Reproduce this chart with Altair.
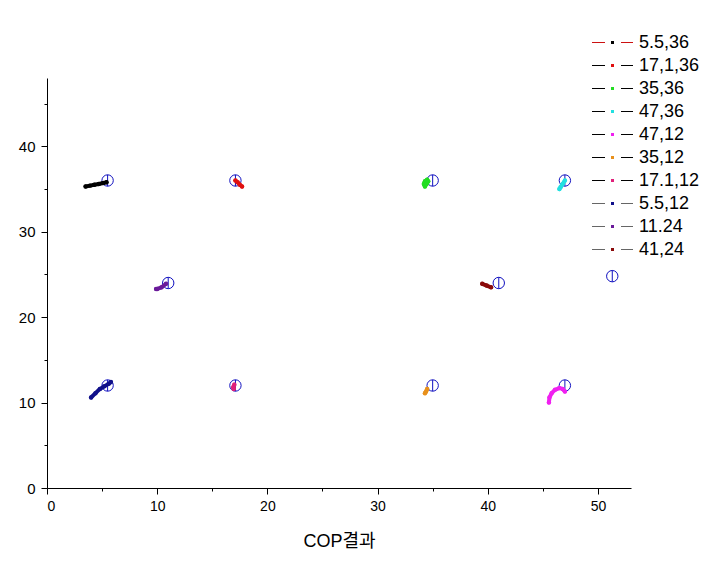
import altair as alt
import pandas as pd

# ---------------- data ----------------
labels = ["5.5,36", "17,1,36", "35,36", "47,36", "47,12",
          "35,12", "17.1,12", "5.5,12", "11.24", "41,24"]
colors = ["#000000", "#e01010", "#22dd22", "#22e0e0", "#f020f0",
          "#e8901c", "#e0207a", "#10108a", "#6a1a9a", "#8a0a0a"]
legend_line_colors = ["#cc1111", "#000000", "#000000", "#000000", "#000000",
                      "#000000", "#000000", "#666666", "#666666", "#666666"]

# measured traces (x, y) per series
s1_x = [3.5, 3.9, 4.3, 4.7, 5.1, 5.4]
s1_y = [35.3, 35.4, 35.5, 35.6, 35.7, 35.8]
s2_x = [17.1, 17.3, 17.5, 17.7]
s2_y = [36.0, 35.8, 35.5, 35.3]
s3_x = [34.5, 34.3, 34.2, 34.3, 34.45, 34.6]
s3_y = [36.1, 35.9, 35.6, 35.3, 35.6, 35.9]
s4_x = [47.0, 46.8, 46.6, 46.5]
s4_y = [36.0, 35.6, 35.2, 35.0]
s5_x = [45.55, 45.6, 45.8, 46.1, 46.5, 46.8, 47.0]
s5_y = [10.0, 10.6, 11.1, 11.5, 11.7, 11.6, 11.3]
s6_x = [34.5, 34.4, 34.3]
s6_y = [11.6, 11.3, 11.1]
s7_x = [17.0, 16.9, 16.95]
s7_y = [12.1, 11.8, 11.6]
s8_x = [4.0, 4.4, 4.8, 5.2, 5.6, 5.8]
s8_y = [10.6, 11.1, 11.6, 11.9, 12.2, 12.4]
s9_x = [9.9, 10.0, 10.4, 10.8]
s9_y = [23.3, 23.3, 23.5, 23.9]
s10_x = [39.5, 39.9, 40.3]
s10_y = [23.9, 23.7, 23.5]

ref_x = [5.5, 17.1, 35, 47, 47, 35, 17.1, 5.5, 11, 41, 51.3]
ref_y = [36, 36, 36, 36, 12, 12, 12, 12, 24, 24, 24.8]

xs = [s1_x, s2_x, s3_x, s4_x, s5_x, s6_x, s7_x, s8_x, s9_x, s10_x]
ys = [s1_y, s2_y, s3_y, s4_y, s5_y, s6_y, s7_y, s8_y, s9_y, s10_y]
rows = []
for lab, sx, sy in zip(labels, xs, ys):
    for i, (a, b) in enumerate(zip(sx, sy)):
        rows.append({"series": lab, "x": a, "y": b, "i": i})
tr_df = pd.DataFrame(rows)
ref_df = pd.DataFrame({"x": ref_x, "y": ref_y})
leg_df = pd.DataFrame({"label": labels, "lc": legend_line_colors})

# ---------------- styling ----------------
FONT = "Liberation Sans, Arial, Noto Sans CJK KR, sans-serif"
BLUE = "#1010c0"
ring = "M-1,0 A1,1 0 1,1 1,0 A1,1 0 1,1 -1,0 Z M0,-1 L0,1"

tick_size = {"condition": {"test": "datum.value % 10 === 0", "value": 6}, "value": 3}

x_enc = alt.X("x:Q",
              scale=alt.Scale(domain=[0, 53], nice=False, zero=False),
              axis=alt.Axis(values=list(range(0, 55, 5)),
                            labelExpr="datum.value % 10 === 0 ? datum.label : ''",
                            title="COP결과", grid=False, tickSize=tick_size,
                            labelPadding=5, titlePadding=19,
                            labelFontSize=14, titleFontSize=18,
                            titleFontWeight="normal"))
y_enc = alt.Y("y:Q",
              scale=alt.Scale(domain=[0, 48], nice=False, zero=False),
              axis=alt.Axis(values=list(range(0, 50, 5)),
                            labelExpr="datum.value % 10 === 0 ? datum.label : ''",
                            title=None, grid=False, tickSize=tick_size,
                            labelPadding=6, labelFontSize=15))
color_enc = alt.Color("series:N", scale=alt.Scale(domain=labels, range=colors), legend=None)

circles = alt.Chart(ref_df).mark_point(
    shape=ring, size=130, filled=False, stroke=BLUE, strokeWidth=1, opacity=1
).encode(x=x_enc, y=y_enc)

lines = alt.Chart(tr_df).mark_line(
    strokeWidth=4, strokeCap="round", strokeJoin="round"
).encode(x=x_enc, y=y_enc, color=color_enc, order="i:Q")

dots = alt.Chart(tr_df).mark_circle(size=20, opacity=1).encode(
    x=x_enc, y=y_enc, color=color_enc)

main = alt.layer(circles, lines, dots)

# ---------------- legend (drawn with marks) ----------------
leg_y = alt.Y("label:N", sort=labels,
              scale=alt.Scale(type="point", range=[-35.5, 171.5], padding=0), axis=None)
leg_left = alt.Chart(leg_df).mark_rule(strokeWidth=1, opacity=1).encode(
    x=alt.value(545), x2=alt.value(558), y=leg_y,
    stroke=alt.Stroke("lc:N", scale=None, legend=None))
leg_right = alt.Chart(leg_df).mark_rule(strokeWidth=1, opacity=1).encode(
    x=alt.value(574), x2=alt.value(586), y=leg_y,
    stroke=alt.Stroke("lc:N", scale=None, legend=None))
leg_dot = alt.Chart(leg_df).mark_point(shape="square", filled=True, size=9, opacity=1).encode(
    x=alt.value(565.5), y=leg_y,
    color=alt.Color("label:N", scale=alt.Scale(domain=labels, range=colors), legend=None))
leg_text = alt.Chart(leg_df).mark_text(
    align="left", baseline="middle", fontSize=18, font=FONT, color="#000000"
).encode(x=alt.value(592), y=leg_y, text="label:N")

legend = alt.layer(leg_left, leg_right, leg_dot, leg_text)

chart = alt.layer(main, legend).resolve_scale(y="independent").properties(
    width=584, height=410,
    autosize=alt.AutoSizeParams(type="none"),
    padding={"left": 47, "top": 78, "right": 96, "bottom": 80},
    background="white",
).configure_view(stroke=None).configure_axis(
    domainColor="#000000", tickColor="#000000", labelColor="#000000",
    titleColor="#000000", labelFont=FONT, titleFont=FONT, domainWidth=1, tickWidth=1
)

chart.save("out.html", embed_options={"renderer": "svg", "actions": False})
